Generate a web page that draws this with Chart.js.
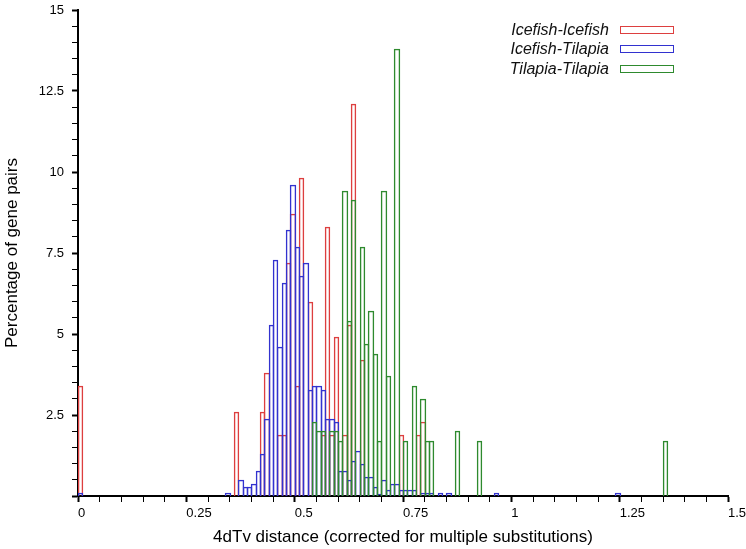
<!DOCTYPE html>
<html>
<head>
<meta charset="utf-8">
<title>4dTv distance distribution</title>
<script src="https://cdn.jsdelivr.net/npm/chart.js@4.4.1/dist/chart.umd.min.js"></script>
<style>
    html, body { margin: 0; padding: 0; background: #fff; }
    #wrap { position: relative; width: 746px; height: 549px; }
    #legend {
        position: absolute; right: 72px; top: 20px;
        font-family: 'Liberation Sans', Arial, sans-serif;
        font-style: italic; font-size: 16px; color: #111;
    }
    .row { display: flex; align-items: center; justify-content: flex-end; height: 19.5px; }
    .swatch { width: 52px; height: 6px; margin-left: 11px; border: 1.5px solid; }
</style>
</head>
<body>
<div id="wrap">
    <canvas id="distChart" width="746" height="549"></canvas>
    <div id="legend"></div>
</div>
<script>
(function() {
    'use strict';

    const BIN_WIDTH = 0.01;

    // lower edge of every non-empty bin, and the share of gene pairs in it (%)
    const icefishBins = [0.00, 0.36, 0.42, 0.43, 0.46, 0.47, 0.48, 0.49, 0.50, 0.51, 0.53,
        0.56, 0.57, 0.58, 0.59, 0.61, 0.62, 0.63, 0.65, 0.74, 0.78, 0.79];
    const icefishPct = [3.38, 2.59, 2.59, 3.80, 1.89, 1.89, 7.20, 8.69, 3.38, 9.81, 5.99,
        1.89, 8.30, 1.89, 4.91, 1.89, 5.29, 12.10, 4.19, 1.89, 1.89, 2.28];

    const mixedBins = [0.00, 0.34, 0.37, 0.38, 0.39, 0.40, 0.41, 0.42, 0.43, 0.44, 0.45,
        0.46, 0.47, 0.48, 0.49, 0.50, 0.51, 0.52, 0.53, 0.54, 0.55, 0.56, 0.57, 0.58, 0.59,
        0.60, 0.61, 0.62, 0.63, 0.64, 0.65, 0.66, 0.67, 0.68, 0.69, 0.70, 0.71, 0.72, 0.73,
        0.74, 0.75, 0.76, 0.77, 0.79, 0.80, 0.81, 0.83, 0.85, 0.96, 1.24];
    const mixedPct = [0.10, 0.10, 0.48, 0.28, 0.28, 0.38, 0.77, 1.29, 2.39, 5.29, 7.29,
        4.60, 6.58, 8.20, 9.60, 7.69, 6.79, 7.20, 3.28, 3.38, 3.38, 3.28, 2.39, 2.39, 2.28,
        0.77, 0.77, 0.48, 1.08, 1.38, 0.98, 0.59, 0.59, 0.28, 0.07, 0.48, 0.17, 0.38, 0.38,
        0.17, 0.17, 0.17, 0.17, 0.10, 0.10, 0.10, 0.10, 0.10, 0.10, 0.10];

    const tilapiaBins = [0.54, 0.55, 0.56, 0.58, 0.59, 0.60, 0.61, 0.62, 0.63, 0.65, 0.66,
        0.67, 0.68, 0.69, 0.70, 0.71, 0.73, 0.75, 0.77, 0.79, 0.80, 0.81, 0.87, 0.92, 1.35];
    const tilapiaPct = [2.28, 2.00, 2.00, 2.00, 2.00, 1.70, 9.40, 5.39, 9.13, 7.69, 4.68,
        5.70, 4.39, 1.70, 9.40, 3.69, 13.80, 1.70, 3.38, 3.00, 1.70, 1.70, 2.00, 1.70, 1.70];

    const seriesNames = ['Icefish-Icefish', 'Icefish-Tilapia', 'Tilapia-Tilapia'];
    const seriesColors = ['#dd3f3f', '#3232cf', '#2e8a2e'];

    const xTickLabels = ['0', '0.25', '0.5', '0.75', '1', '1.25', '1.5'];
    const yTickLabels = ['2.5', '5', '7.5', '10', '12.5', '15'];

    const LINE = 1.5;

    Chart.defaults.font.family = "'Liberation Sans', Arial, sans-serif";
    Chart.defaults.color = '#000';

    function toPoints(bins, pct) {
        return bins.map((b, i) => ({ x: b + BIN_WIDTH / 2, y: pct[i] }));
    }

    function isMultiple(value, step) {
        const r = value / step;
        return Math.abs(r - Math.round(r)) < 1e-6;
    }

    function makeDataset(idx, points) {
        return {
            label: seriesNames[idx],
            data: points,
            borderColor: seriesColors[idx],
            backgroundColor: 'rgba(0,0,0,0)',
            borderWidth: LINE,
            borderSkipped: 'start',
            grouped: false,
            barPercentage: 1,
            categoryPercentage: 1,
            inflateAmount: 0,
            order: 3 - idx
        };
    }

    // Put each bin edge on a whole pixel, so neighbouring bins share one crisp edge
    // instead of two half-covered ones that blend into a muddy line.
    const pixelSnap = {
        id: 'pixelSnap',
        beforeDatasetsDraw(chart) {
            const xs = chart.scales.x;
            const ys = chart.scales.y;
            const half = (LINE - 1) / 2;
            const base = Math.round(ys.getPixelForValue(0));
            chart.data.datasets.forEach((ds, i) => {
                chart.getDatasetMeta(i).data.forEach((bar, j) => {
                    const p = ds.data[j];
                    const left = Math.round(xs.getPixelForValue(p.x - BIN_WIDTH / 2)) - half;
                    const right = Math.round(xs.getPixelForValue(p.x + BIN_WIDTH / 2)) + 1 + half;
                    bar.x = (left + right) / 2;
                    bar.width = right - left;
                    bar.y = Math.round(ys.getPixelForValue(p.y)) - half;
                    bar.base = base;
                });
            });
        }
    };

    const ctx = document.getElementById('distChart');

    new Chart(ctx, {
        type: 'bar',
        data: {
            datasets: [
                makeDataset(0, toPoints(icefishBins, icefishPct)),
                makeDataset(1, toPoints(mixedBins, mixedPct)),
                makeDataset(2, toPoints(tilapiaBins, tilapiaPct))
            ]
        },
        options: {
            responsive: false,
            animation: false,
            layout: { padding: { top: 10, right: 18, bottom: 0, left: 0 } },
            plugins: {
                legend: { display: false },
                tooltip: { enabled: false }
            },
            scales: {
                x: {
                    type: 'linear',
                    min: 0,
                    max: 1.5,
                    offset: false,
                    border: { display: true, color: '#000', width: 2 },
                    grid: {
                        offset: false,
                        drawOnChartArea: false,
                        tickLength: 6,
                        tickColor: '#000',
                        tickWidth: c => (c.tick && isMultiple(c.tick.value, 0.25) ? 2 : 1)
                    },
                    ticks: {
                        stepSize: 0.05,
                        autoSkip: false,
                        maxRotation: 0,
                        align: 'start',
                        padding: 4,
                        font: { size: 13 },
                        callback: function(value) {
                            const label = String(value);
                            return xTickLabels.includes(label) ? label : '';
                        }
                    },
                    title: {
                        display: true,
                        text: '4dTv distance (corrected for multiple substitutions)',
                        font: { size: 17 },
                        padding: { top: 0, bottom: 1 }
                    },
                    afterFit: function(scale) {
                        scale.height = 53;
                        scale.paddingLeft = 0;
                        scale.paddingRight = 0;
                    }
                },
                y: {
                    min: 0,
                    max: 15,
                    border: { display: true, color: '#000', width: 2 },
                    grid: {
                        drawOnChartArea: false,
                        tickLength: 6,
                        tickColor: '#000',
                        tickWidth: c => (c.tick && isMultiple(c.tick.value, 2.5) ? 2 : 1)
                    },
                    ticks: {
                        stepSize: 0.5,
                        autoSkip: false,
                        padding: 8,
                        font: { size: 13 },
                        callback: function(value) {
                            const label = String(value);
                            return yTickLabels.includes(label) ? label : '';
                        }
                    },
                    title: {
                        display: true,
                        text: 'Percentage of gene pairs',
                        font: { size: 17 },
                        padding: { top: 2, bottom: 0 }
                    },
                    afterFit: function(scale) {
                        scale.width = 78;
                        scale.paddingTop = 0;
                        scale.paddingBottom = 0;
                    }
                }
            }
        },
        plugins: [pixelSnap]
    });

    // legend: italic name, then an empty outlined box, right-aligned in the top corner
    const legend = document.getElementById('legend');
    seriesNames.forEach((name, i) => {
        const row = document.createElement('div');
        row.className = 'row';
        const text = document.createElement('span');
        text.textContent = name;
        const swatch = document.createElement('span');
        swatch.className = 'swatch';
        swatch.style.borderColor = seriesColors[i];
        row.appendChild(text);
        row.appendChild(swatch);
        legend.appendChild(row);
    });
})();
</script>
</body>
</html>
